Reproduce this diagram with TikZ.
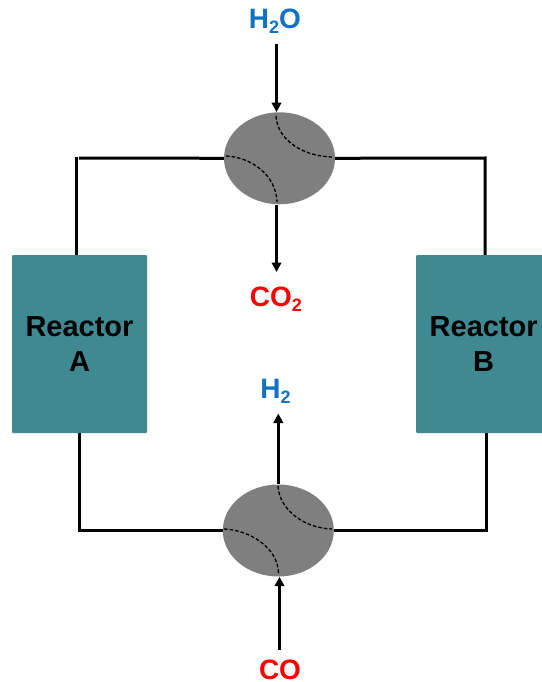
\documentclass[tikz,border=0pt]{standalone}
\usepackage{fontspec}
\setmainfont{Liberation Sans}
\usetikzlibrary{arrows.meta,shapes.geometric}
\definecolor{teal1}{HTML}{3F8A92}
\definecolor{gray1}{HTML}{7F7F7F}
\definecolor{blue1}{HTML}{0F72C4}
\newcommand{\subtwo}{{\fontsize{18}{18}\selectfont\raisebox{-5pt}{2}}}
\tikzset{
  x=1pt,y=-1pt,
  reactor/.style={draw=none,fill=teal1,minimum width=135pt,minimum height=178pt,inner sep=0pt,rounded corners=1pt,
    align=center,font=\fontsize{29}{35}\selectfont\bfseries,text=black},
  exch/.style={ellipse,draw=none,fill=gray1,minimum width=111pt,minimum height=92pt,inner sep=0pt},
  pipe/.style={line width=3pt,black},
  flow/.style={line width=3pt,black,-{Triangle[length=9.5pt,width=9.5pt]}},
  seal/.style={line width=1.3pt,black,dash pattern=on 3.6pt off 2pt},
  redlab/.style={font=\fontsize{28}{28}\selectfont\bfseries,text=red,inner sep=0pt},
  bluelab/.style={font=\fontsize{28}{28}\selectfont\bfseries,text=blue1,inner sep=0pt},
}
\begin{document}
\begin{tikzpicture}
\useasboundingbox (0,0) rectangle (541,682);
\node[reactor] (ra) at (79.5,344) {Reactor\\A};
\node[reactor,anchor=west] (rb) at (416,344) {Reactor\\B};
\node[exch] (top) at (279.5,158.3) {};
\node[exch] (bot) at (278.3,530.5) {};
\coordinate (tl) at (76.5,158);
\coordinate (tr) at (485,158);
\coordinate (bl) at (79,530.5);
\coordinate (br) at (486,530.5);
\coordinate (inTop) at (276.5,44.5);
\coordinate (outTop) at (276.5,272);
\coordinate (outBot) at (278.3,413.5);
\coordinate (inBot) at (279.5,650);
\node[bluelab] (h2o) at (275,21.5) {H\subtwo O};
\node[redlab] (co2) at (276,299) {CO\subtwo};
\node[bluelab] (h2) at (275.5,391) {H\subtwo};
\node[redlab] (co) at (280,669.5) {CO};
% pipes
\draw[pipe] (top.west) -- (79,158);
\draw[pipe] (tl) ++(0,-1.5) -- (ra.north -| tl);
\draw[pipe] (top.east) -- (tr) -- (rb.north -| tr);
\draw[pipe] (bot.west) -- (bl) -- (ra.south -| bl);
\draw[pipe] (bot.east) -- (br) -- (rb.south -| br);
% flows
\draw[flow] (inTop) -- (top.north -| inTop);
\draw[flow] (top.south -| outTop) -- (outTop);
\draw[flow] (bot.north -| outBot) -- (outBot);
\draw[flow] (inBot) -- (bot.south -| inBot);
% seals
\draw[seal] (276,116) .. controls (277,138) and (300,156) .. (332,157);
\draw[seal] (226,156) .. controls (250,157) and (276,174) .. (277,202);
\draw[seal] (278,486) .. controls (279,508) and (302,528) .. (332,529);
\draw[seal] (224,529) .. controls (250,530) and (278,548) .. (278.5,573);
\end{tikzpicture}
\end{document}
